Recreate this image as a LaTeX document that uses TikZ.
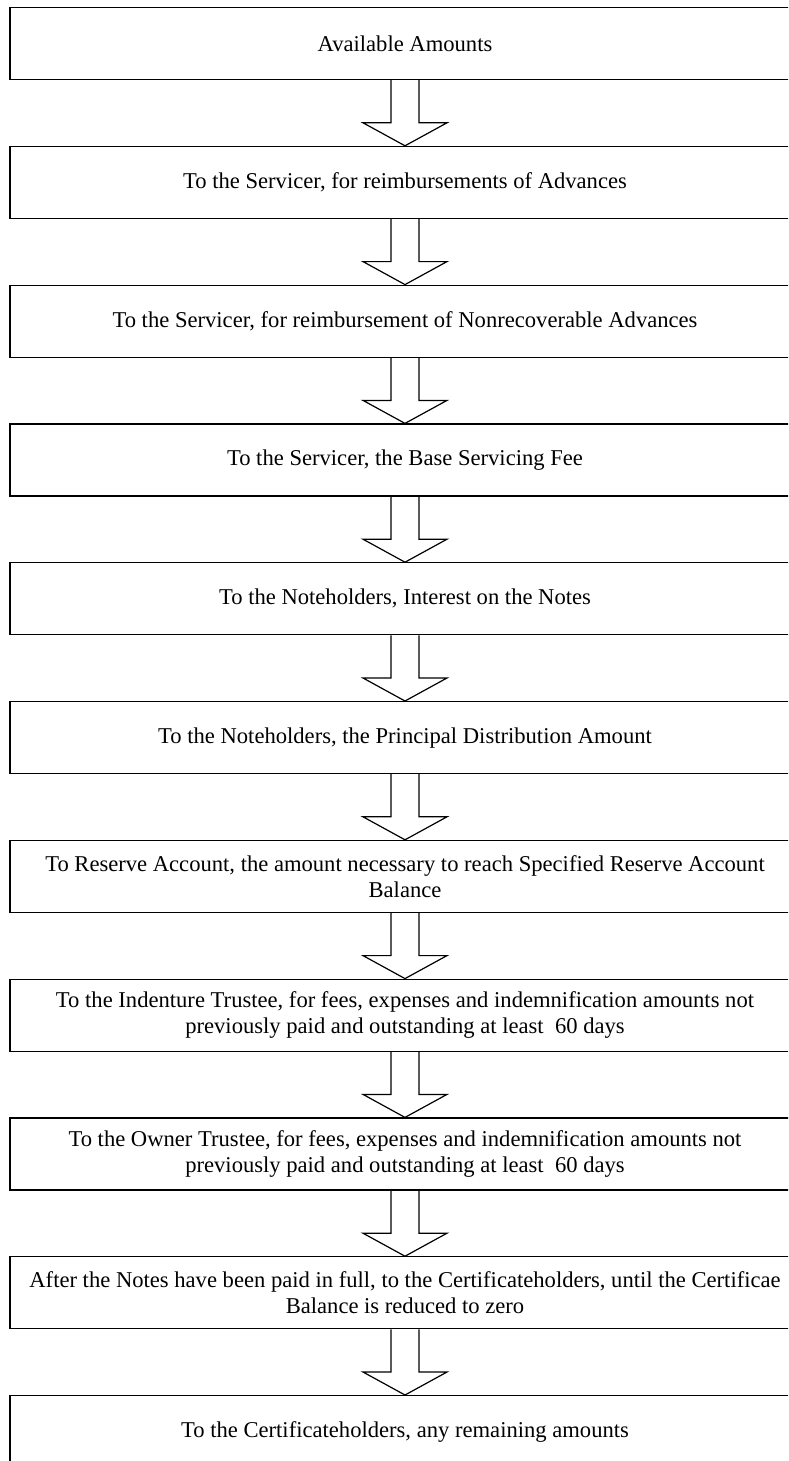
\documentclass[tikz,border=0pt]{standalone}
\usepackage{fontspec}
\setmainfont{Liberation Serif}
\usetikzlibrary{calc}
\begin{document}
\begin{tikzpicture}[x=1pt,y=-1pt,
  stagebox/.style={draw=black,line width=1.2pt,minimum width=790pt,minimum height=72pt,
    inner sep=0pt,align=center,anchor=north,font=\fontsize{22.6}{26}\selectfont},
  blockarrow/.style={draw=black,line width=1.2pt,line join=miter}]
\useasboundingbox (0,0) rectangle (788,1461);
\clip (0,0) rectangle (788,1461);
\node[stagebox] (b1) at (405,7) {Available Amounts};
\node[stagebox] (b2) at (405,145.8) {To the Servicer, for reimbursements of Advances};
\node[stagebox] (b3) at (405,284.6) {To the Servicer, for reimbursement of Nonrecoverable Advances};
\node[stagebox] (b4) at (405,423.4) {To the Servicer, the Base Servicing Fee};
\node[stagebox] (b5) at (405,562.2) {To the Noteholders, Interest on the Notes};
\node[stagebox] (b6) at (405,701) {To the Noteholders, the Principal Distribution Amount};
\node[stagebox] (b7) at (405,839.8) {To Reserve Account, the amount necessary to reach Specified Reserve Account\\Balance};
\node[stagebox] (b8) at (405,978.6) {To the Indenture Trustee, for fees, expenses and indemnification amounts not\\previously paid and outstanding at least\enspace60 days};
\node[stagebox] (b9) at (405,1117.4) {To the Owner Trustee, for fees, expenses and indemnification amounts not\\previously paid and outstanding at least\enspace60 days};
\node[stagebox] (b10) at (405,1256.2) {After the Notes have been paid in full, to the Certificateholders, until the Certificae\\Balance is reduced to zero};
\node[stagebox] (b11) at (405,1395) {To the Certificateholders, any remaining amounts};
\foreach \a/\b in {b1/b2,b2/b3,b3/b4,b4/b5,b5/b6,b6/b7,b7/b8,b8/b9,b9/b10,b10/b11}{
  \draw[blockarrow] ($(\a.south)+(-14,0)$) -- ($(\b.north)+(-14,-23)$) -- ($(\b.north)+(-42,-23)$)
    -- (\b.north) -- ($(\b.north)+(42,-23)$) -- ($(\b.north)+(14,-23)$) -- ($(\a.south)+(14,0)$);
}
\end{tikzpicture}
\end{document}
